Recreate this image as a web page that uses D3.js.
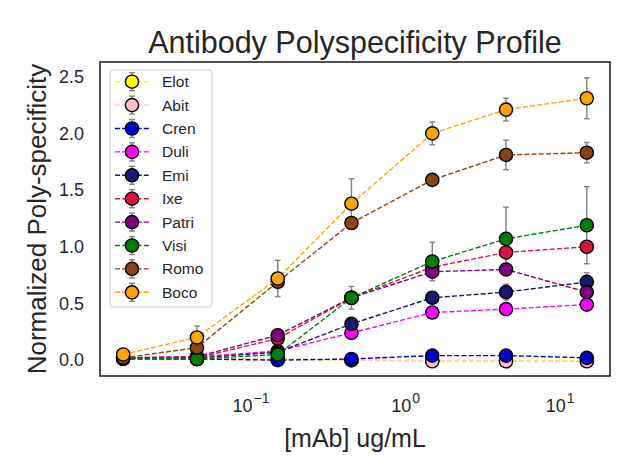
<!DOCTYPE html>
<html>
<head>
<meta charset="utf-8">
<script src="https://cdn.jsdelivr.net/npm/d3@7"></script>
<style>
  body { margin: 0; background: #fff; }
  svg text { font-family: "Liberation Sans", Arial, sans-serif; fill: #262626; }
</style>
</head>
<body>
<svg width="640" height="476"></svg>
<script>
// concentrations (ug/mL)
var conc = [0.015, 0.045, 0.15, 0.45, 1.5, 4.5, 15];

var names  = ["Elot", "Abit", "Cren", "Duli", "Emi", "Ixe", "Patri", "Visi", "Romo", "Boco"];
var colors = ["#ffff00", "#ffc0cb", "#0000cd", "#ff00ff", "#191970", "#dc143c", "#800080", "#008000", "#8b4513", "#ffa500"];

// mean values
var elot  = [0.02, 0.01, 0.01, 0.00, 0.00, 0.00, -0.005];
var abit  = [0.02, 0.01, 0.01, 0.00, -0.01, -0.01, -0.01];
var cren  = [0.01, 0.01, 0.00, 0.01, 0.04, 0.04, 0.02];
var duli  = [0.02, 0.03, 0.08, 0.24, 0.42, 0.45, 0.49];
var emi   = [0.02, 0.02, 0.07, 0.32, 0.55, 0.60, 0.69];
var ixe   = [0.02, 0.02, 0.19, 0.55, 0.82, 0.95, 1.00];
var patri = [0.02, 0.03, 0.22, 0.55, 0.78, 0.80, 0.60];
var visi  = [0.02, 0.01, 0.05, 0.55, 0.87, 1.07, 1.19];
var romo  = [0.02, 0.11, 0.69, 1.21, 1.59, 1.81, 1.83];
var boco  = [0.05, 0.20, 0.72, 1.38, 2.00, 2.21, 2.31];

// error bar half-widths
var elotErr  = [0.01, 0.01, 0.01, 0.01, 0.01, 0.01, 0.01];
var abitErr  = [0.01, 0.01, 0.01, 0.01, 0.01, 0.01, 0.01];
var crenErr  = [0.01, 0.01, 0.01, 0.01, 0.02, 0.02, 0.02];
var duliErr  = [0.01, 0.01, 0.02, 0.02, 0.03, 0.03, 0.03];
var emiErr   = [0.01, 0.01, 0.02, 0.04, 0.05, 0.07, 0.08];
var ixeErr   = [0.01, 0.01, 0.02, 0.05, 0.04, 0.04, 0.05];
var patriErr = [0.01, 0.01, 0.03, 0.04, 0.05, 0.04, 0.05];
var visiErr  = [0.01, 0.01, 0.02, 0.10, 0.17, 0.28, 0.34];
var romoErr  = [0.01, 0.02, 0.03, 0.03, 0.02, 0.13, 0.09];
var bocoErr  = [0.02, 0.10, 0.16, 0.22, 0.10, 0.10, 0.18];

var yTicks = [0, 0.5, 1.0, 1.5, 2.0, 2.5];
var xTicks = [0.1, 1, 10];

var values = [elot, abit, cren, duli, emi, ixe, patri, visi, romo, boco];
var errors = [elotErr, abitErr, crenErr, duliErr, emiErr, ixeErr, patriErr, visiErr, romoErr, bocoErr];

var series = names.map(function(n, i) {
  return {
    name: n,
    color: colors[i],
    points: conc.map(function(c, j) { return { c: c, v: values[i][j], e: errors[i][j] }; })
  };
});

var svg = d3.select("svg"),
    margin = { top: 62, right: 30, bottom: 100, left: 100 },
    width = +svg.attr("width"),
    height = +svg.attr("height");

var x = d3.scaleLog()
    .domain([0.015 / Math.pow(10, 0.15), 15 * Math.pow(10, 0.15)])
    .range([margin.left, width - margin.right]);

var y = d3.scaleLinear()
    .domain([-0.14, 2.63])
    .range([height - margin.bottom, margin.top]);

var r = 6.6, cap = 2.8;
var dash = "5,2.2";

// y axis
var gy = svg.append("g")
    .attr("transform", "translate(" + margin.left + ",0)")
    .call(d3.axisLeft(y).tickValues(yTicks).tickFormat(d3.format(".1f")).tickSize(0).tickPadding(16));
gy.select(".domain").remove();
gy.selectAll("text").attr("font-size", 18).attr("font-family", null);

// x axis, 10^n labels
var gx = svg.append("g")
    .attr("transform", "translate(0," + (height - margin.bottom) + ")")
    .call(d3.axisBottom(x).tickValues(xTicks).tickFormat("").tickSize(0).tickPadding(23));
gx.select(".domain").remove();
gx.selectAll("text").each(function(d) {
  var t = d3.select(this).attr("font-size", 18).attr("font-family", null);
  var p = Math.round(Math.log10(d));
  t.append("tspan").text("10");
  t.append("tspan").attr("dy", "-0.6em").attr("dx", 1).attr("font-size", 14)
    .text(p < 0 ? "\u2212" + (-p) : String(p));
});

// error bars first
var eg = svg.append("g").attr("stroke", "#7f7f7f").attr("stroke-width", 1.4).attr("fill", "none");
series.forEach(function(s) {
  s.points.forEach(function(p) {
    var cx = x(p.c), y0 = y(p.v - p.e), y1 = y(p.v + p.e);
    eg.append("line").attr("x1", cx).attr("x2", cx).attr("y1", y0).attr("y2", y1);
    eg.append("line").attr("x1", cx - cap).attr("x2", cx + cap).attr("y1", y0).attr("y2", y0);
    eg.append("line").attr("x1", cx - cap).attr("x2", cx + cap).attr("y1", y1).attr("y2", y1);
  });
});

var line = d3.line()
    .x(function(d) { return x(d.c); })
    .y(function(d) { return y(d.v); });

series.forEach(function(s) {
  var g = svg.append("g");
  g.append("path")
      .datum(s.points)
      .attr("d", line)
      .attr("fill", "none")
      .attr("stroke", s.color)
      .attr("stroke-width", 1.4)
      .attr("stroke-dasharray", dash);
  g.selectAll("circle")
    .data(s.points)
    .enter().append("circle")
      .attr("cx", function(d) { return x(d.c); })
      .attr("cy", function(d) { return y(d.v); })
      .attr("r", r)
      .attr("fill", s.color)
      .attr("stroke", "#000")
      .attr("stroke-width", 1.4);
});

// frame
svg.append("rect")
    .attr("x", margin.left)
    .attr("y", margin.top)
    .attr("width", width - margin.left - margin.right)
    .attr("height", height - margin.top - margin.bottom)
    .attr("fill", "none")
    .attr("stroke", "#262626")
    .attr("stroke-width", 1.6);

// legend
var lg = svg.append("g").attr("transform", "translate(110,70)");
lg.append("rect")
    .attr("x", 0).attr("y", 0)
    .attr("width", 102).attr("height", 237)
    .attr("rx", 3)
    .attr("fill", "#fff").attr("fill-opacity", 0.8)
    .attr("stroke", "#cccccc").attr("stroke-width", 1);

var item = lg.selectAll("g.item")
  .data(series)
  .enter().append("g")
    .attr("class", "item")
    .attr("transform", function(d, i) { return "translate(0," + (11.7 + i * 23.4) + ")"; });

item.append("line")
    .attr("x1", 5).attr("x2", 39)
    .attr("stroke", function(d) { return d.color; })
    .attr("stroke-width", 1.4)
    .attr("stroke-dasharray", dash);
item.append("line")
    .attr("x1", 22).attr("x2", 22).attr("y1", -9).attr("y2", 9)
    .attr("stroke", "#7f7f7f").attr("stroke-width", 1.4);
item.append("line")
    .attr("x1", 22 - cap).attr("x2", 22 + cap).attr("y1", -9).attr("y2", -9)
    .attr("stroke", "#7f7f7f").attr("stroke-width", 1.4);
item.append("line")
    .attr("x1", 22 - cap).attr("x2", 22 + cap).attr("y1", 9).attr("y2", 9)
    .attr("stroke", "#7f7f7f").attr("stroke-width", 1.4);
item.append("circle")
    .attr("cx", 22).attr("r", r)
    .attr("fill", function(d) { return d.color; })
    .attr("stroke", "#000").attr("stroke-width", 1.4);
item.append("text")
    .attr("x", 52)
    .attr("dy", "0.35em")
    .attr("font-size", 15.5)
    .text(function(d) { return d.name; });

// titles
svg.append("text")
    .attr("x", (margin.left + width - margin.right) / 2)
    .attr("y", 53)
    .attr("text-anchor", "middle")
    .attr("font-size", 30.5)
    .text("Antibody Polyspecificity Profile");

svg.append("text")
    .attr("x", (margin.left + width - margin.right) / 2)
    .attr("y", 447)
    .attr("text-anchor", "middle")
    .attr("font-size", 25)
    .text("[mAb] ug/mL");

svg.append("text")
    .attr("transform", "translate(46," + ((margin.top + height - margin.bottom) / 2) + ") rotate(-90)")
    .attr("text-anchor", "middle")
    .attr("font-size", 26)
    .text("Normalized Poly-specificity");
</script>
</body>
</html>
